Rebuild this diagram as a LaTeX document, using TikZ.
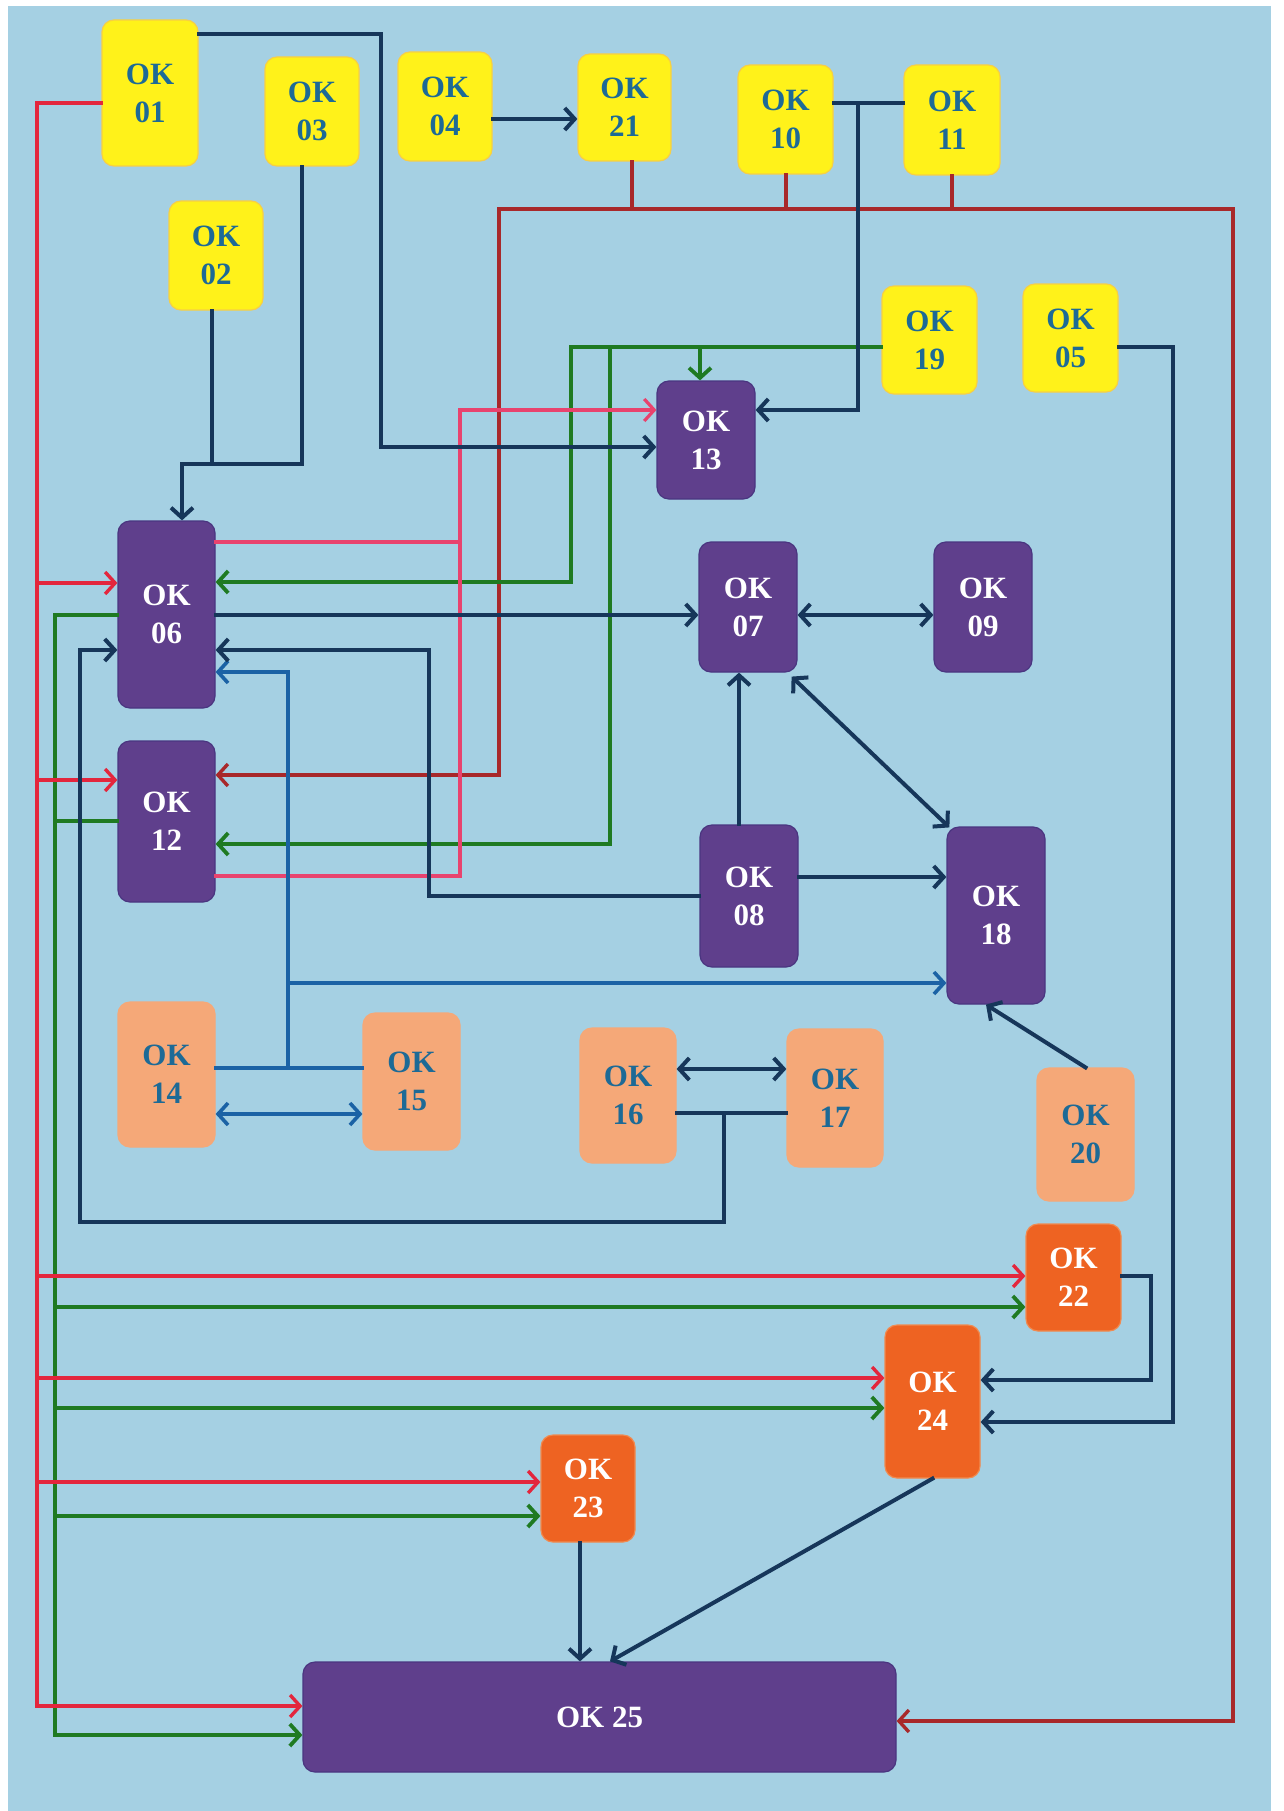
\documentclass[tikz,border=0pt]{standalone}
\usepackage{fontspec}
\setmainfont{Liberation Serif}
\usetikzlibrary{arrows.meta}
\definecolor{bgblue}{HTML}{A5D0E3}
\definecolor{nv}{HTML}{16365A}
\definecolor{rdc}{HTML}{E3263D}
\definecolor{pkc}{HTML}{E8436E}
\definecolor{drc}{HTML}{A8282A}
\definecolor{gnc}{HTML}{1F7A22}
\definecolor{blc}{HTML}{1B62A5}
\definecolor{yel}{HTML}{FFF21A}
\definecolor{yelb}{HTML}{F7CF45}
\definecolor{pur}{HTML}{5F3F8C}
\definecolor{purb}{HTML}{4A3580}
\definecolor{peach}{HTML}{F5A878}
\definecolor{orng}{HTML}{EE6322}
\definecolor{orngb}{HTML}{F08A50}
\definecolor{tealtxt}{HTML}{1D6A96}
\tikzset{
  box/.style={rounded corners=12pt, inner sep=0pt, align=center, line width=1.2pt,
    font=\fontsize{31}{38}\selectfont\bfseries},
  ybox/.style={box, fill=yel, draw=yelb, text=tealtxt},
  pbox/.style={box, fill=pur, draw=purb, text=white},
  lbox/.style={box, fill=peach, draw=peach, text=tealtxt},
  obox/.style={box, fill=orng, draw=orngb, text=white},
  tip/.tip={Straight Barb[length=10pt,width=22pt]},
  arr/.style={-tip},
  darr/.style={tip-tip},
  ln/.style={line join=miter, line cap=rect},
  nvl/.style={ln, draw=nv, line width=4pt},
  rdl/.style={ln, draw=rdc, line width=3.4pt},
  pkl/.style={ln, draw=pkc, line width=3.2pt},
  drl/.style={ln, draw=drc, line width=3.4pt},
  gnl/.style={ln, draw=gnc, line width=3.8pt},
  bll/.style={ln, draw=blc, line width=3.6pt},
}
\begin{document}
\begin{tikzpicture}[x=1pt,y=-1pt]
\useasboundingbox (0,0) rectangle (1283,1811);
\fill[white] (0,0) rectangle (1283,1811);
\fill[bgblue] (8,6) rectangle (1271,1811);

% nodes
\node[ybox, minimum width=96pt, minimum height=146pt] (n01) at (150,93) {OK\\01};
\node[ybox, minimum width=94pt, minimum height=109pt] (n03) at (312,111.5) {OK\\03};
\node[ybox, minimum width=94pt, minimum height=109pt] (n04) at (445,106.5) {OK\\04};
\node[ybox, minimum width=93pt, minimum height=107pt] (n21) at (624.5,107.5) {OK\\21};
\node[ybox, minimum width=95pt, minimum height=109pt] (n10) at (785.5,119.5) {OK\\10};
\node[ybox, minimum width=96pt, minimum height=110pt] (n11) at (952,120) {OK\\11};
\node[ybox, minimum width=94pt, minimum height=109pt] (n02) at (216,255.5) {OK\\02};
\node[ybox, minimum width=95pt, minimum height=108pt] (n19) at (929.5,340) {OK\\19};
\node[ybox, minimum width=95pt, minimum height=108pt] (n05) at (1070.5,338) {OK\\05};
\node[pbox, minimum width=98pt, minimum height=118pt] (n13) at (706,440) {OK\\13};
\node[pbox, minimum width=97pt, minimum height=187pt] (n06) at (166.5,614.5) {OK\\06};
\node[pbox, minimum width=98pt, minimum height=130pt] (n07) at (748,607) {OK\\07};
\node[pbox, minimum width=98pt, minimum height=130pt] (n09) at (983,607) {OK\\09};
\node[pbox, minimum width=97pt, minimum height=161pt] (n12) at (166.5,821.5) {OK\\12};
\node[pbox, minimum width=98pt, minimum height=142pt] (n08) at (749,896) {OK\\08};
\node[pbox, minimum width=98pt, minimum height=177pt] (n18) at (996,915.5) {OK\\18};
\node[lbox, minimum width=97pt, minimum height=145pt] (n14) at (166.5,1074.5) {OK\\14};
\node[lbox, minimum width=97pt, minimum height=137pt] (n15) at (411.5,1081.5) {OK\\15};
\node[lbox, minimum width=96pt, minimum height=135pt] (n16) at (628,1095.5) {OK\\16};
\node[lbox, minimum width=96pt, minimum height=138pt] (n17) at (835,1098) {OK\\17};
\node[lbox, minimum width=97pt, minimum height=133pt] (n20) at (1085.5,1134.5) {OK\\20};
\node[obox, minimum width=95pt, minimum height=107pt] (n22) at (1073.5,1277.5) {OK\\22};
\node[obox, minimum width=95pt, minimum height=153pt] (n24) at (932.5,1401.5) {OK\\24};
\node[obox, minimum width=94pt, minimum height=107pt] (n23) at (588,1488.5) {OK\\23};
\node[pbox, minimum width=593pt, minimum height=110pt] (n25) at (599.5,1717) {OK 25};

% dark red
\draw[drl] (632,0 |- n21.south) -- (632,209);
\draw[drl] (786,0 |- n10.south) -- (786,209);
\draw[drl] (952,0 |- n11.south) -- (952,209);
\draw[drl,arr] (499,209) -- (1233,209) -- (1233,1721) -- (n25.east |- 0,1721);
\draw[drl,arr] (499,209) -- (499,775) -- (n12.east |- 0,775);

% green
\draw[gnl,arr] (n19.west |- 0,347) -- (571,347) -- (571,582) -- (n06.east |- 0,582);
\draw[gnl,arr] (610,347) -- (610,844) -- (n12.east |- 0,844);
\draw[gnl,arr] (700,347) -- (700,0 |- n13.north);
\draw[gnl,arr] (n06.west |- 0,615) -- (55,615) -- (55,1735) -- (n25.west |- 0,1735);
\draw[gnl] (n12.west |- 0,821) -- (55,821);
\draw[gnl,arr] (55,1307) -- (n22.west |- 0,1307);
\draw[gnl,arr] (55,1408) -- (n24.west |- 0,1408);
\draw[gnl,arr] (55,1516) -- (n23.west |- 0,1516);

% red
\draw[rdl,arr] (n01.west |- 0,103) -- (37,103) -- (37,1706) -- (n25.west |- 0,1706);
\draw[rdl,arr] (37,583) -- (n06.west |- 0,583);
\draw[rdl,arr] (37,780) -- (n12.west |- 0,780);
\draw[rdl,arr] (37,1276) -- (n22.west |- 0,1276);
\draw[rdl,arr] (37,1378) -- (n24.west |- 0,1378);
\draw[rdl,arr] (37,1482) -- (n23.west |- 0,1482);

% pink
\draw[pkl] (n06.east |- 0,542) -- (460,542);
\draw[pkl,arr] (n12.east |- 0,876) -- (460,876) -- (460,410) -- (n13.west |- 0,410);

% blue
\draw[bll] (n14.east |- 0,1068) -- (n15.west |- 0,1068);
\draw[bll,arr] (288,1068) -- (288,672) -- (n06.east |- 0,672);
\draw[bll,arr] (288,983) -- (n18.west |- 0,983);
\draw[bll,darr] (n14.east |- 0,1114) -- (n15.west |- 0,1114);

% navy
\draw[nvl,arr] (n01.east |- 0,34) -- (381,34) -- (381,447) -- (n13.west |- 0,447);
\draw[nvl] (212,0 |- n02.south) -- (212,464);
\draw[nvl,arr] (302,0 |- n03.south) -- (302,464) -- (182,464) -- (182,0 |- n06.north);
\draw[nvl,arr] (n04.east |- 0,119) -- (n21.west |- 0,119);
\draw[nvl] (n10.east |- 0,103) -- (n11.west |- 0,103);
\draw[nvl,arr] (858,103) -- (858,410) -- (n13.east |- 0,410);
\draw[nvl,arr] (n06.east |- 0,615) -- (n07.west |- 0,615);
\draw[nvl,darr] (n07.east |- 0,615) -- (n09.west |- 0,615);
\draw[nvl,arr] (739,0 |- n08.north) -- (739,0 |- n07.south);
\draw[nvl,darr] ([shift={(-6,4)}]n07.south east) -- ([shift={(3,1)}]n18.north west);
\draw[nvl,arr] (n08.east |- 0,877) -- (n18.west |- 0,877);
\draw[nvl,arr] (n08.west |- 0,896) -- (429,896) -- (429,650) -- (n06.east |- 0,650);
\draw[nvl,darr] (n16.east |- 0,1069) -- (n17.west |- 0,1069);
\draw[nvl] (n16.east |- 0,1113) -- (n17.west |- 0,1113);
\draw[nvl,arr] (724,1113) -- (724,1222) -- (80,1222) -- (80,650) -- (n06.west |- 0,650);
\draw[nvl,arr] (n20.north) -- (986,0 |- n18.south);
\draw[nvl,arr] (n22.east |- 0,1276) -- (1151,1276) -- (1151,1380) -- (n24.east |- 0,1380);
\draw[nvl,arr] (n05.east |- 0,347) -- (1173,347) -- (1173,1422) -- (n24.east |- 0,1422);
\draw[nvl,arr] (n24.south) -- (610,0 |- n25.north);
\draw[nvl,arr] (580,0 |- n23.south) -- (580,0 |- n25.north);
\end{tikzpicture}
\end{document}
